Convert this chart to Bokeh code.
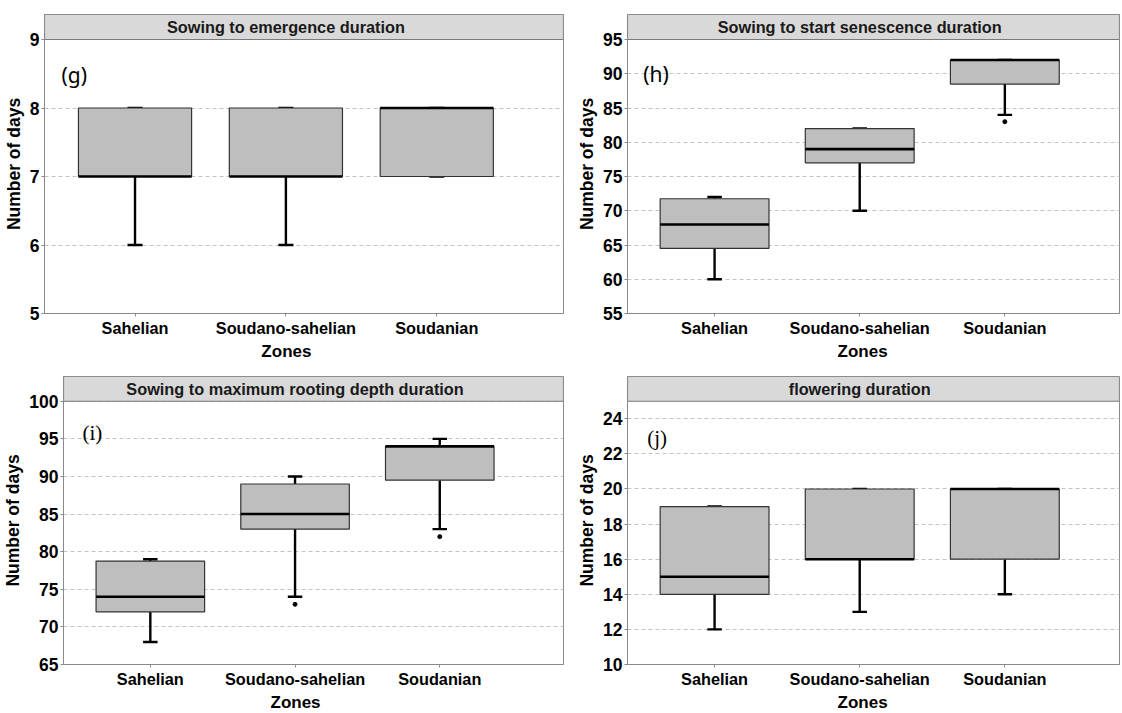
from bokeh.plotting import figure
from bokeh.layouts import row, column
from bokeh.models import Range1d, FixedTicker, Label, Title, ColumnDataSource
from bokeh.embed import file_html
from bokeh.resources import INLINE
from bokeh.core.properties import value

# ---------------- data ----------------
zones = ["Sahelian", "Soudano-sahelian", "Soudanian"]
x_title = "Zones"
y_title = "Number of days"

# (g) Sowing to emergence duration
g_lower = [6, 6, 7]
g_q1 = [7, 7, 7]
g_med = [7, 7, 8]
g_q3 = [8, 8, 8]
g_upper = [8, 8, 8]
g_out_zone = []
g_out_val = []
g_ticks = [5, 6, 7, 8, 9]

# (h) Sowing to start senescence duration
h_lower = [60, 70, 84]
h_q1 = [64.5, 77, 88.5]
h_med = [68, 79, 92]
h_q3 = [71.75, 82, 92]
h_upper = [72, 82, 92]
h_out_zone = ["Soudanian"]
h_out_val = [83]
h_ticks = [55, 60, 65, 70, 75, 80, 85, 90, 95]

# (i) Sowing to maximum rooting depth duration
i_lower = [68, 74, 83]
i_q1 = [72, 83, 89.5]
i_med = [74, 85, 94]
i_q3 = [78.75, 89, 94]
i_upper = [79, 90, 95]
i_out_zone = ["Soudano-sahelian", "Soudanian"]
i_out_val = [73, 82]
i_ticks = [65, 70, 75, 80, 85, 90, 95, 100]

# (j) flowering duration
j_lower = [12, 13, 14]
j_q1 = [14, 16, 16]
j_med = [15, 16, 20]
j_q3 = [19, 20, 20]
j_upper = [19, 20, 20]
j_out_zone = []
j_out_val = []
j_ticks = [10, 12, 14, 16, 18, 20, 22, 24]

FONT = "Liberation Sans"
GRID_COL = "#c4c4c4"
AXIS_COL = "#8a8a8a"
BOX_FILL = "#bebebe"
STRIP_FILL = "#d9d9d9"
STRIP_PX = 25
BOX_W = 0.75
CAP_W = 0.1


def panel(title, tag, tag_font, lower, q1, med, q3, upper, out_zone, out_val,
          y_min, y_max, ticks, x_start, x_end, width, plot_px,
          b_left, b_right, b_top, b_bottom, tag_dx, tag_dy):
    height = b_top + STRIP_PX + plot_px + b_bottom
    y_end = y_max + (y_max - y_min) * STRIP_PX / plot_px
    frame_w = width - b_left - b_right
    px_x = frame_w / (x_end - x_start)
    px_y = plot_px / (y_max - y_min)

    p = figure(width=width, height=height, output_backend="svg",
               toolbar_location=None, x_range=Range1d(x_start, x_end),
               y_range=Range1d(y_min, y_end),
               min_border_left=b_left, min_border_right=b_right,
               min_border_top=b_top, min_border_bottom=b_bottom)
    p.background_fill_color = "white"
    p.border_fill_color = "white"
    p.outline_line_color = AXIS_COL
    p.outline_line_width = 1

    xs = [zones.index(z) + 1 for z in zones]
    src = ColumnDataSource(dict(
        x=xs, lower=lower, q1=q1, med=med, q3=q3, upper=upper,
        left=[x - BOX_W / 2 for x in xs], right=[x + BOX_W / 2 for x in xs],
        cl=[x - CAP_W / 2 for x in xs], cr=[x + CAP_W / 2 for x in xs]))

    # whiskers & caps
    p.segment(x0="x", y0="lower", x1="x", y1="q1", source=src,
              line_color="black", line_width=2.4)
    p.segment(x0="x", y0="q3", x1="x", y1="upper", source=src,
              line_color="black", line_width=2.4)
    p.segment(x0="cl", y0="lower", x1="cr", y1="lower", source=src,
              line_color="black", line_width=2.4)
    p.segment(x0="cl", y0="upper", x1="cr", y1="upper", source=src,
              line_color="black", line_width=2.4)
    # boxes
    p.quad(left="left", right="right", bottom="q1", top="q3", source=src,
           fill_color=BOX_FILL, line_color="#333333", line_width=1.2)
    # median
    p.segment(x0="left", y0="med", x1="right", y1="med", source=src,
              line_color="black", line_width=2.6)
    # outliers
    if out_zone:
        p.scatter(x=[zones.index(z) + 1 for z in out_zone], y=out_val,
                  size=4, color="black")

    # strip (facet header)
    p.quad(left=[x_start], right=[x_end], bottom=[y_max], top=[y_end],
           fill_color=STRIP_FILL, line_color="#7a7a7a", line_width=1.2)
    p.text(x=[2], y=[(y_max + y_end) / 2], text=[title],
           text_font=value(FONT), text_font_style="bold",
           text_font_size="16.3px", text_color="#1a1a1a",
           text_align="center", text_baseline="middle")

    # panel tag
    p.add_layout(Label(x=x_start + tag_dx / px_x, y=y_max - tag_dy / px_y,
                       text=tag, text_font=tag_font, text_font_size="21px",
                       text_color="black", text_align="left",
                       text_baseline="middle"))

    # x axis title centered under the middle category
    title_w = 50
    p.add_layout(Title(text=x_title, align="left",
                       offset=(2 - x_start) * px_x - title_w / 2,
                       text_font=FONT, text_font_style="bold",
                       text_font_size="17px", text_color="black",
                       standoff=0), "below")

    # axes
    p.xaxis.ticker = FixedTicker(ticks=xs)
    p.xaxis.major_label_overrides = {x: z for x, z in zip(xs, zones)}
    p.yaxis.ticker = FixedTicker(ticks=ticks)
    p.yaxis.axis_label = y_title
    for ax in (p.xaxis[0], p.yaxis[0]):
        ax.axis_line_color = AXIS_COL
        ax.major_tick_line_color = AXIS_COL
        ax.major_tick_out = 3
        ax.major_tick_in = 0
        ax.minor_tick_line_color = None
        ax.major_label_text_font = FONT
        ax.major_label_text_font_style = "bold"
        ax.major_label_text_color = "black"
        ax.major_label_standoff = 2
    p.xaxis.major_label_text_font_size = "16.3px"
    p.yaxis.major_label_text_font_size = "17.5px"
    p.yaxis.axis_label_text_font = FONT
    p.yaxis.axis_label_text_font_style = "bold"
    p.yaxis.axis_label_text_font_size = "17.5px"
    p.yaxis.axis_label_text_color = "black"
    p.yaxis.axis_label_standoff = 3

    p.xgrid.visible = False
    p.ygrid.ticker = FixedTicker(ticks=ticks)
    p.ygrid.grid_line_color = GRID_COL
    p.ygrid.grid_line_dash = "4 3"
    p.ygrid.grid_line_width = 1
    return p


WL, WR = 574, 546
TOP_PX, BOT_PX = 274, 266

pg = panel("Sowing to emergence duration", "(g)", "Noto Sans",
           g_lower, g_q1, g_med, g_q3, g_upper, g_out_zone, g_out_val,
           5, 9, g_ticks, 0.4, 3.84, WL, TOP_PX, 43, 11, 14, 47, 17, 35)
ph = panel("Sowing to start senescence duration", "(h)", "Noto Sans",
           h_lower, h_q1, h_med, h_q3, h_upper, h_out_zone, h_out_val,
           55, 95, h_ticks, 0.4, 3.79, WR, TOP_PX, 47, 1, 14, 47, 16, 34)
pi = panel("Sowing to maximum rooting depth duration", "(i)", "Liberation Serif",
           i_lower, i_q1, i_med, i_q3, i_upper, i_out_zone, i_out_val,
           65, 100, i_ticks, 0.4, 3.855, WL, BOT_PX, 62, 11, 16, 44, 19, 32)
pj = panel("flowering duration", "(j)", "Liberation Serif",
           j_lower, j_q1, j_med, j_q3, j_upper, j_out_zone, j_out_val,
           10, 25, j_ticks, 0.4, 3.79, WR, BOT_PX, 47, 1, 16, 44, 20, 37)

layout = column(row(pg, ph), row(pi, pj))
open("out.html", "w").write(file_html(layout, INLINE))
